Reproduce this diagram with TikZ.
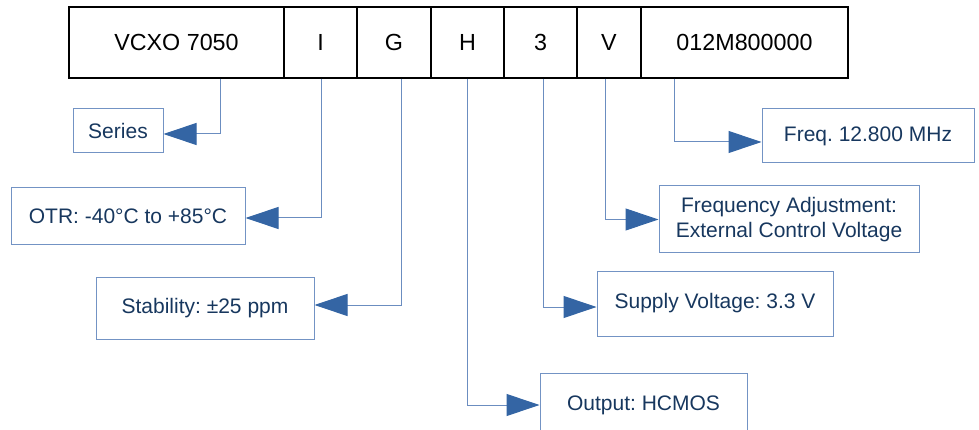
\documentclass[tikz,border=0pt]{standalone}
\usepackage{fontspec}
\setmainfont{Liberation Sans}
\usetikzlibrary{arrows.meta,calc}
\definecolor{boxline}{HTML}{7393C4}
\definecolor{connline}{HTML}{6B8DC0}
\definecolor{tipblue}{HTML}{3465A4}
\definecolor{navytext}{HTML}{17375E}
\frenchspacing
\begin{document}
\begin{tikzpicture}[x=1pt,y=-1pt,
  topbox/.style={draw=black,line width=1.2pt,inner sep=0pt,minimum height=71pt,
    font=\fontsize{23.3}{28}\selectfont,text=black},
  infobox/.style={draw=boxline,line width=1pt,inner sep=0pt,
    font=\fontsize{21}{25}\selectfont,text=navytext,align=center},
  conn/.style={draw=connline,line width=1pt,
    -{Triangle[length=33pt,width=22pt,fill=tipblue,color=tipblue]}}]
\useasboundingbox (0,0) rectangle (979,430);
\clip (0,0) rectangle (979,430);
% top code boxes
\node[topbox,minimum width=215pt] (vcxo) at (176.5,42.5) {VCXO 7050};
\node[topbox,minimum width=73pt] (i) at (320.5,42.5) {I};
\node[topbox,minimum width=74pt] (g) at (394,42.5) {G};
\node[topbox,minimum width=73pt] (h) at (467.5,42.5) {H};
\node[topbox,minimum width=73pt] (three) at (540.5,42.5) {3};
\node[topbox,minimum width=64pt] (v) at (609,42.5) {V};
\node[topbox,minimum width=207pt] (freq) at (744.5,42.5) {012M800000};
% description boxes
\node[infobox,minimum width=90pt,minimum height=44pt] (series) at (118,131) {Series};
\node[infobox,minimum width=234pt,minimum height=57pt] (otr) at (128,216.5) {OTR: -40°C to +85°C};
\node[infobox,minimum width=218pt,minimum height=62pt] (stab) at (205,308) {Stability: ±25 ppm};
\node[infobox,minimum width=212pt,minimum height=54pt] (fbox) at (868,136) {Freq. 12.800 MHz};
\node[infobox,minimum width=260pt,minimum height=67pt] (adj) at (789,219.5) {Frequency Adjustment:\\External Control Voltage};
\node[infobox,minimum width=236pt,minimum height=65pt] (supply) at (715,303.5) {Supply Voltage: 3.3 V};
\node[infobox,minimum width=207pt,minimum height=64pt] (output) at (643.5,405) {Output: HCMOS};
% connectors
\draw[conn] ($(vcxo.south west)+(152,0)$) |- ([yshift=-3pt]series.east);
\draw[conn] ($(i.south)+(0.5,0)$) |- ([yshift=-1.5pt]otr.east);
\draw[conn] ($(g.south)+(7,0)$) |- ([yshift=3pt]stab.east);
\draw[conn] (h.south) |- (output.west);
\draw[conn] ($(three.south)+(2.5,0)$) |- ([yshift=-3.5pt]supply.west);
\draw[conn] ($(v.south)+(-4,0)$) |- (adj.west);
\draw[conn] ($(freq.south west)+(34,0)$) |- ([yshift=-6pt]fbox.west);
\end{tikzpicture}
\end{document}
